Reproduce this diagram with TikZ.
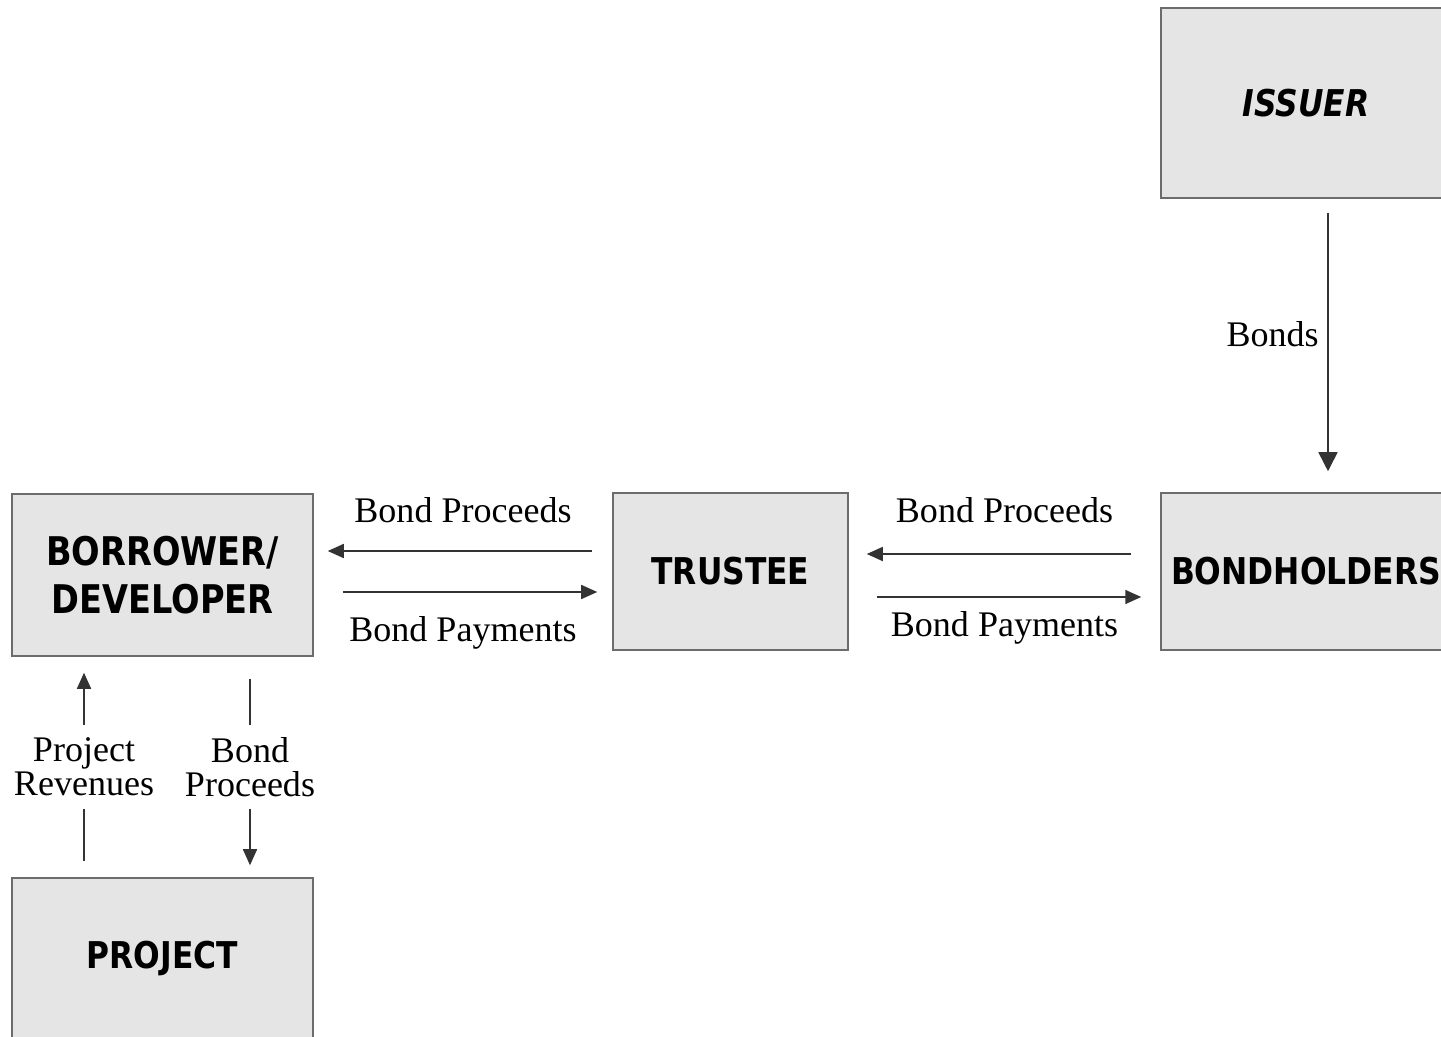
\documentclass[tikz,border=0pt]{standalone}
\usepackage{fontspec}
\setmainfont{Liberation Serif}
\newfontfamily\boxfont[FakeStretch=0.85]{DejaVu Sans}
\usetikzlibrary{arrows.meta}

\tikzstyle{party} = [rectangle, draw=gray!85!black, fill=gray!20, line width=0.9pt, align=center, inner xsep=0pt, font=\boxfont\bfseries\fontsize{21}{27}\selectfont]
\tikzstyle{flow} = [draw=black!80, line width=0.9pt, -{Triangle[length=0.32cm,width=0.28cm]}]
\tikzstyle{lbl} = [font=\fontsize{20.5}{19.5}\selectfont, align=center, inner sep=2pt]

\begin{document}
\begin{tikzpicture}[x=0.02cm, y=-0.02cm]
        \clip (0,0) rectangle (1441,1037);
        \fill[white] (0,0) rectangle (1441,1037);
        % parties
        \node (issuer) at (1306,103) [party, minimum width=5.8cm, minimum height=3.8cm] {\itshape ISSUER};
        \node (bondholders) at (1306,571.5) [party, minimum width=5.8cm, minimum height=3.14cm] {BONDHOLDERS};
        \node (trustee) at (730.5,571.5) [party, minimum width=4.7cm, minimum height=3.14cm] {TRUSTEE};
        \node (borrower) at (162.5,575) [party, minimum width=6.02cm, minimum height=3.24cm, font=\boxfont\bfseries\fontsize{22.5}{27}\selectfont] {BORROWER/\\DEVELOPER};
        \node (project) at (162.5,958) [party, minimum width=6.02cm, minimum height=3.2cm] {PROJECT};
        % rows and columns of the connectors
        \coordinate (rowA) at (0,551);
        \coordinate (rowB) at (0,592);
        \coordinate (rowC) at (0,554);
        \coordinate (rowD) at (0,597);
        \coordinate (colB) at (1328,0);
        \coordinate (colR) at (84,0);
        \coordinate (colP) at (250,0);
        % flows
        \draw[flow, -{Triangle[length=0.38cm,width=0.38cm]}, shorten <=0.28cm, shorten >=0.42cm] (issuer.south -| colB) -- (bondholders.north -| colB)
            node[lbl, pos=0.46, left=0.1cm] (bondsLbl) {Bonds};
        \draw[flow, shorten <=0.58cm, shorten >=0.36cm] (bondholders.west |- rowC) -- (trustee.east |- rowC)
            node[lbl, midway, above=0.54cm] (procRight) {Bond Proceeds};
        \draw[flow, shorten <=0.56cm, shorten >=0.38cm] (trustee.east |- rowD) -- (bondholders.west |- rowD)
            node[lbl, midway, below=0.2cm] (payRight) {Bond Payments};
        \draw[flow, shorten <=0.4cm, shorten >=0.28cm] (trustee.west |- rowA) -- (borrower.east |- rowA)
            node[lbl, midway, above=0.48cm] (procLeft) {Bond Proceeds};
        \draw[flow, shorten <=0.58cm, shorten >=0.3cm] (borrower.east |- rowB) -- (trustee.west |- rowB)
            node[lbl, midway, below=0.4cm] (payLeft) {Bond Payments};
        \draw[flow, shorten <=0.32cm, shorten >=0.32cm] (project.north -| colR) -- (borrower.south -| colR)
            node[lbl, midway, fill=white, inner ysep=7pt] (revLbl) {Project\\Revenues};
        \draw[flow, shorten <=0.44cm, shorten >=0.24cm] (borrower.south -| colP) -- (project.north -| colP)
            node[lbl, midway, fill=white, inner ysep=7pt] (procDown) {Bond\\Proceeds};
\end{tikzpicture}
\end{document}
